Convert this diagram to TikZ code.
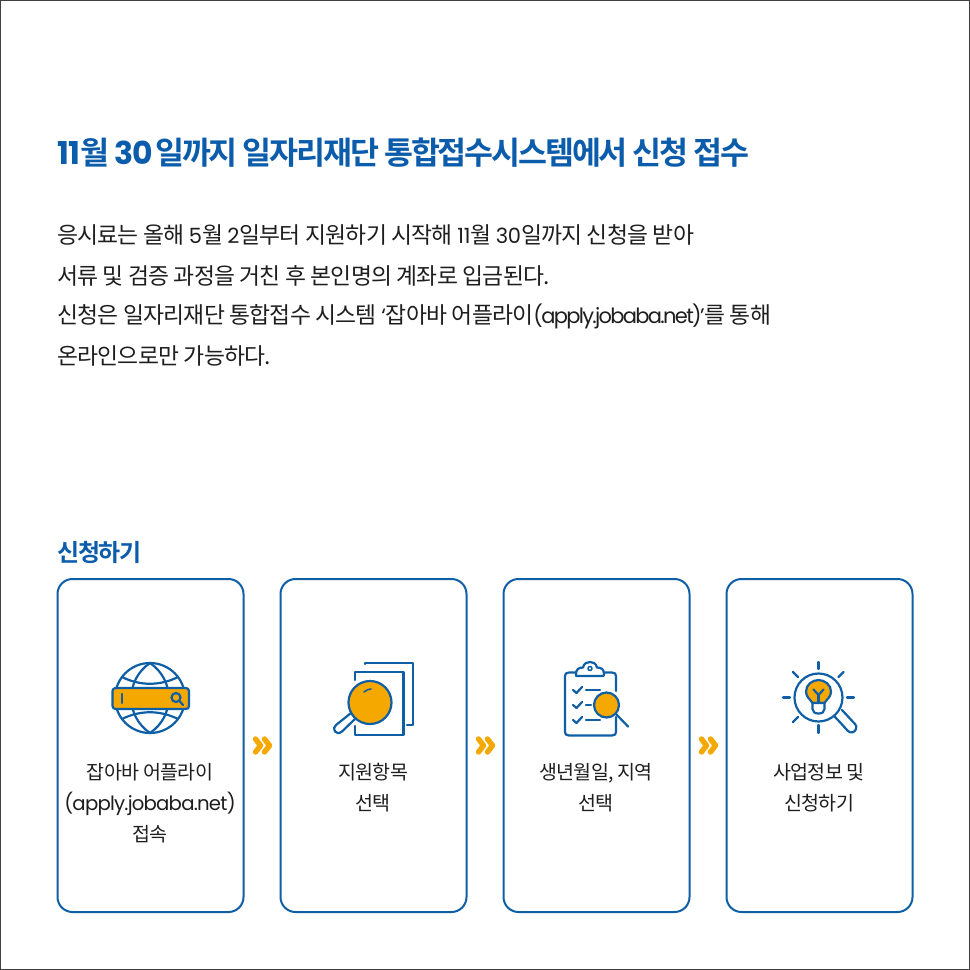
\documentclass[tikz,border=0pt]{standalone}
\usepackage{fontspec}
\setmainfont{Noto Sans CJK KR}
\newfontfamily\krbody[LetterSpace=-3.2]{Noto Sans CJK KR}
\newfontfamily\krbold[LetterSpace=-6.8,BoldFont={Noto Sans CJK KR Bold}]{Noto Sans CJK KR}
\newfontfamily\krhead[LetterSpace=-5,BoldFont={Noto Sans CJK KR Bold}]{Noto Sans CJK KR}
\newfontfamily\ltn[LetterSpace=-1,Scale=0.92]{Poppins}
\newfontfamily\ltt[LetterSpace=-8,Scale=0.92]{Poppins}
\newfontfamily\ltc[LetterSpace=-4,Scale=1.01]{Poppins}
\newfontfamily\ltb[LetterSpace=-2,Scale=1.0]{Poppins}
\definecolor{kblue}{HTML}{0F5FA6}
\definecolor{korange}{HTML}{F5A800}
\definecolor{ktitle}{HTML}{0B5CAB}
\definecolor{ktext}{HTML}{1E1E1E}
\tikzset{
  x=1pt,y=-1pt,
  card/.style={draw=kblue,line width=2pt,rounded corners=15pt,fill=white},
  ico/.style={draw=kblue,line width=2.2pt,line cap=round,line join=round},
  icofill/.style={ico,fill=korange},
  chev/.style={draw=korange,line width=5.4pt,line join=round,line cap=round},
  titletext/.style={anchor=west,inner sep=0pt,text=ktitle,font=\krbold\bfseries\fontsize{31.5}{36}\selectfont},
  headtext/.style={anchor=west,inner sep=0pt,text=ktitle,font=\krhead\bfseries\fontsize{24}{28}\selectfont},
  bodytext/.style={anchor=west,inner sep=0pt,text=ktext,font=\krbody\fontsize{22.8}{26}\selectfont},
  captext/.style={anchor=center,inner sep=0pt,text=ktext,align=center,font=\krbody\fontsize{19.5}{31}\selectfont},
}
\begin{document}
\begin{tikzpicture}
\useasboundingbox (0,0) rectangle (970,970);
\draw[draw=black!75,line width=1pt,fill=white] (0.5,0.5) rectangle (969.5,969.5);
\node[titletext] (title) at (57,153) {{\ltb\bfseries 11}월 {\ltb\bfseries 30}\kern2pt 일까지 일자리재단 통합접수시스템에서 신청 접수};
\node[bodytext] (b1) at (57,235) {응시료는 올해 {\ltn 5}월 {\ltn 2}일부터 지원하기 시작해 {\ltn 11}월 {\ltn 30}일까지 신청을 받아};
\node[bodytext] (b2) at (57,276) {서류 및 검증 과정을 거친 후 본인명의 계좌로 입금된다.};
\node[bodytext] (b3) at (57,316) {신청은 일자리재단 통합접수 시스템 {\ltn ‘}잡아바 어플라이{\ltt (apply.jobaba.net)’}를 통해};
\node[bodytext] (b4) at (57,356) {온라인으로만 가능하다.};
\node[headtext] (head) at (57,552) {신청하기};
\draw[card] (57.5,579) rectangle (243.5,912);
\draw[card] (280.5,579) rectangle (466.5,912);
\draw[card] (503.5,579) rectangle (689.5,912);
\draw[card] (726.5,579) rectangle (912.5,912);
\node[captext] (c1) at (150,803) {잡아바 어플라이\\{\ltc (apply.jobaba.net)}\\접속};
\node[captext] (c2) at (373,788) {지원항목\\선택};
\node[captext] (c3) at (596,788) {생년월일, 지역\\선택};
\node[captext] (c4) at (819,788) {사업정보 및\\신청하기};
% chevrons
\foreach \o in {0,223,446}{
  \draw[chev] (255.5+\o,739) -- (260.5+\o,745.5) -- (255.5+\o,752);
  \draw[chev] (264.5+\o,739) -- (269.5+\o,745.5) -- (264.5+\o,752);
}
% globe
\draw[ico] (150,698) circle (35);
\draw[ico] (150,663) .. controls (125,680) and (125,716) .. (150,733);
\draw[ico] (150,663) .. controls (175,680) and (175,716) .. (150,733);
\draw[ico] (122,677) .. controls (140,686) and (160,686) .. (178,677);
\draw[ico] (122,719) .. controls (140,710) and (160,710) .. (178,719);
\draw[icofill,rounded corners=3pt] (112.5,688) rectangle (189,709);
\draw[ico] (122,694) -- (122,703);
\draw[ico] (176,697.5) circle (4.5);
\draw[ico] (179.5,701) -- (183,705);
% pages + lens
\draw[ico] (365,664) -- (365,663) -- (413,663) -- (413,725) -- (407,725);
\draw[ico] (355,680) -- (355,672) -- (403.5,672) -- (403.5,735) -- (355,735) -- (355,726);
\draw[ico,fill=white] (351,713) -- (356,718) -- (342,731.5) .. controls (339,734) and (336,733) .. (335,731.5) .. controls (333,729) and (334,727) .. (336,725) -- cycle;
\draw[icofill] (370,702.5) circle (21.5);
\draw[ico,line width=1.6pt] (364,692) .. controls (366,690) and (369,689) .. (371,689);
% clipboard
\draw[ico] (576,672.5) -- (569,672.5) .. controls (566,672.5) and (565,674) .. (565,676) -- (565,732) .. controls (565,734) and (566,735.5) .. (569,735.5) -- (612,735.5) .. controls (615,735.5) and (616,734) .. (616,732) -- (616,717);
\draw[ico] (604,672.5) -- (612,672.5) .. controls (615,672.5) and (616,674) .. (616,676) -- (616,691);
\draw[ico] (576,676) -- (603,676) .. controls (604,676) and (604,675) .. (604,674) .. controls (604,669) and (601,667.5) .. (597,667.5) .. controls (596,663) and (593,662) .. (590,662) .. controls (587,662) and (584,663) .. (583,667.5) .. controls (579,667.5) and (576,669) .. (576,674) -- cycle;
\draw[ico,line width=1.5pt] (590,668.5) circle (2);
\foreach \yy in {690,705,720}{
  \draw[ico] (573,\yy) -- (576.5,\yy+3) -- (582,\yy-3);
}
\draw[ico] (586,690) -- (600,690);
\draw[ico] (586,705) -- (591,705);
\draw[ico] (586,720) -- (600,720);
\draw[ico] (616,714) -- (628,726.5);
\draw[icofill] (606.5,705) circle (12.5);
% bulb icon
\foreach \a/\b/\c/\d in {818.5/662/818.5/669,818.5/725/818.5/733,783/697.5/790/697.5,847/697.5/854/697.5,793/672/798/677,843.5/672/838.5/677,793/722/798/717}{
  \draw[ico] (\a,\b) -- (\c,\d);
}
\draw[ico] (818.5,697.5) circle (24);
\draw[ico,fill=white] (835,717) .. controls (840,722) and (845,728) .. (848,731) .. controls (851,734) and (855,732) .. (856,729) .. controls (857,727) and (856,725) .. (855,724) -- (842,710) ;
\draw[icofill] (812.5,703) .. controls (810,699) and (806,697) .. (806,691.5) .. controls (806,685) and (812,680) .. (818.5,680) .. controls (825,680) and (831,685) .. (831,691.5) .. controls (831,697) and (827,699) .. (824.5,703) -- cycle;
\draw[ico,fill=white] (812.5,703) -- (824.5,703) -- (824.5,709) .. controls (824.5,712) and (822,713.5) .. (818.5,713.5) .. controls (815,713.5) and (812.5,712) .. (812.5,709) -- cycle;
\draw[ico] (818.5,703) -- (818.5,694);
\draw[ico] (813.5,689.5) -- (818.5,695) -- (823.5,689.5);
\end{tikzpicture}
\end{document}
